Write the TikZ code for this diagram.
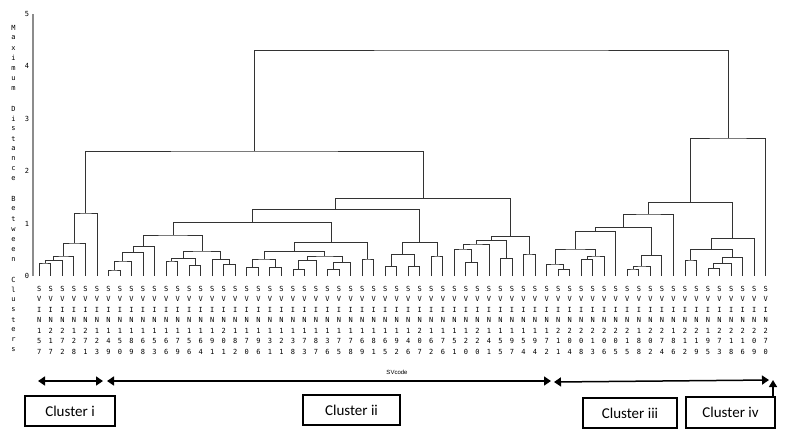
\documentclass[tikz,border=0pt]{standalone}
\usepackage{fontspec}
\newfontfamily\pixfont{DejaVu Sans Mono}
\newfontfamily\calfont{Carlito}
\newfontfamily\tinysans{Liberation Sans}
\usetikzlibrary{calc,arrows.meta}

\tikzset{
  link/.style={draw=black!80, line width=0.9pt},
  axisline/.style={draw=black!45, line width=1.2pt},
  leaflab/.style={font=\pixfont\fontsize{7}{10.5}\selectfont, align=center, inner sep=0pt, anchor=north},
  ylab/.style={font=\pixfont\fontsize{7}{8}\selectfont, inner sep=0pt},
  clusterbox/.style={draw, line width=1.4pt, inner sep=0pt, minimum height=30pt, font=\calfont\fontsize{15}{18}\selectfont},
  clusterspan/.style={line width=1.5pt, {Triangle[length=7pt,width=9pt]}-{Triangle[length=7pt,width=9pt]}},
}

% one column of a leaf label: S V I N and the three digits
\newcommand{\leafstack}[3]{S\\V\\I\\N\\#1\\#2\\#3}
% dendrogram link: child, child, parent, height of the merge
\newcommand{\dlink}[4]{%
  \coordinate (mid) at ($(#1)!0.5!(#2)$);
  \coordinate (hgt) at (0,#4);
  \coordinate (#3) at (mid |- hgt);
  \draw[link] (#1) |- (#3) -| (#2);
}

\begin{document}
\begin{tikzpicture}[x=1pt,y=-1pt]
  \useasboundingbox (0,0) rectangle (786,437);

  % Axis and its scale
  \draw[axisline] (33,14) -- (33,276);
  \foreach \v in {0,...,5}
    \node[ylab] at (27,{276-52.4*\v}) {\v};

  % Axis title, one letter per line
  \foreach \ch [count=\i] in {M,a,x,i,m,u,m,,D,i,s,t,a,n,c,e,,B,e,t,w,e,e,n,,C,l,u,s,t,e,r,s}
    \node[ylab] at (13.5,{28+(\i-1)*10.06}) {\ch};

  % Leaves and their codes
  \foreach \c [count=\n] in {157,217,272,128,271,123,149,150,189,168,
      153,166,179,156,164,191,201,182,170,196,
      131,121,138,173,187,136,175,178,169,181,
      165,192,146,207,162,176,151,120,220,141,
      155,197,154,194,172,211,204,208,213,206,
      205,215,188,202,274,186,212,219,195,273,
      218,216,209,270} {
    \coordinate (l\n) at ({39.3+(\n-1)*11.53},276);
    \node[leaflab] at ([yshift=-10pt]l\n) {\expandafter\leafstack\c};
  }

  % Cluster i
  \dlink{l1}{l2}{g1}{263}
  \dlink{g1}{l3}{g2}{260.5}
  \dlink{g2}{l4}{g3}{256}
  \dlink{g3}{l5}{g4}{243}
  \dlink{g4}{l6}{g5}{213}

  % Cluster ii
  \dlink{l7}{l8}{a1}{270}
  \dlink{a1}{l9}{a2}{261}
  \dlink{a2}{l10}{a3}{252.7}
  \dlink{a3}{l11}{a4}{246.7}
  \dlink{l12}{l13}{a5}{261}
  \dlink{l14}{l15}{a6}{265.7}
  \dlink{a5}{a6}{a7}{258.3}
  \dlink{l17}{l18}{a8}{264.3}
  \dlink{l16}{a8}{a9}{259.3}
  \dlink{a7}{a9}{a10}{251}
  \dlink{a4}{a10}{a11}{235}

  \dlink{l19}{l20}{b1}{267.3}
  \dlink{l21}{l22}{b2}{267.3}
  \dlink{b1}{b2}{b3}{259}
  \dlink{l23}{l24}{b4}{269.3}
  \dlink{b4}{l25}{b5}{260.3}
  \dlink{l26}{l27}{b6}{269.3}
  \dlink{b6}{l28}{b7}{262.7}
  \dlink{b5}{b7}{b8}{256}
  \dlink{b3}{b8}{b9}{251.7}
  \dlink{l29}{l30}{b10}{259}
  \dlink{b9}{b10}{b11}{242.3}
  \dlink{a11}{b11}{b12}{222.5}

  \dlink{l31}{l32}{d1}{266.7}
  \dlink{l33}{l34}{d2}{266.7}
  \dlink{d1}{d2}{d3}{254.7}
  \dlink{l35}{l36}{d4}{256}
  \dlink{d3}{d4}{d5}{242.7}
  \dlink{b12}{d5}{d6}{209.3}

  \dlink{l38}{l39}{e1}{262.3}
  \dlink{l37}{e1}{e2}{249}
  \dlink{e2}{l40}{e3}{244}
  \dlink{l41}{l42}{e4}{258.7}
  \dlink{e3}{e4}{e5}{240.7}
  \dlink{l43}{l44}{e6}{254}
  \dlink{e5}{e6}{e7}{236.7}
  \dlink{d6}{e7}{e8}{198.3}

  % Clusters i and ii together
  \dlink{g5}{e8}{t1}{151}

  % Cluster iii
  \dlink{l46}{l47}{f1}{269.3}
  \dlink{l45}{f1}{f2}{264}
  \dlink{l48}{l49}{f3}{259.3}
  \dlink{f3}{l50}{f4}{256}
  \dlink{f2}{f4}{f5}{249}
  \dlink{f5}{l51}{f6}{231.7}
  \dlink{l52}{l53}{f7}{269}
  \dlink{f7}{l54}{f8}{266}
  \dlink{f8}{l55}{f9}{255.7}
  \dlink{f6}{f9}{f10}{227.3}
  \dlink{f10}{l56}{f11}{214}

  \dlink{l57}{l58}{h1}{260}
  \dlink{l59}{l60}{h2}{268.7}
  \dlink{h2}{l61}{h3}{263.3}
  \dlink{h3}{l62}{h4}{257.3}
  \dlink{h1}{h4}{h5}{249.3}
  \dlink{h5}{l63}{h6}{238.3}
  \dlink{f11}{h6}{h7}{202.3}

  % Cluster iv and the root
  \dlink{h7}{l64}{h8}{138}
  \dlink{t1}{h8}{root}{50}

  % Axis name
  \node[font=\tinysans\fontsize{6}{7}\selectfont, inner sep=0pt] (svcode) at (397,372) {SVcode};

  % Spans of the clusters
  \coordinate (s1a) at (38,381);
  \coordinate (s1b) at (103,381);
  \coordinate (s2a) at (107,381);
  \coordinate (s2b) at (551,381);
  \coordinate (s3a) at (554,382);
  \coordinate (s3b) at (769,380);
  \draw[clusterspan] (s1a) -- (s1b);
  \draw[clusterspan] (s2a) -- (s2b);
  \draw[clusterspan] (s3a) -- (s3b);

  % Cluster boxes
  \node[clusterbox, minimum width=90pt] (ci) at (70,411) {Cluster i};
  \node[clusterbox, minimum width=97pt] (cii) at (351.5,410) {Cluster ii};
  \node[clusterbox, minimum width=94pt] (ciii) at (630,413) {Cluster iii};
  \node[clusterbox, minimum width=89pt, minimum height=31pt] (civ) at (730.5,412.5) {Cluster iv};

  \coordinate (uptip) at (773,380);
  \draw[line width=1.5pt, -{Triangle[length=7pt,width=8pt]}] (civ.north -| uptip) -- (uptip);
\end{tikzpicture}
\end{document}
